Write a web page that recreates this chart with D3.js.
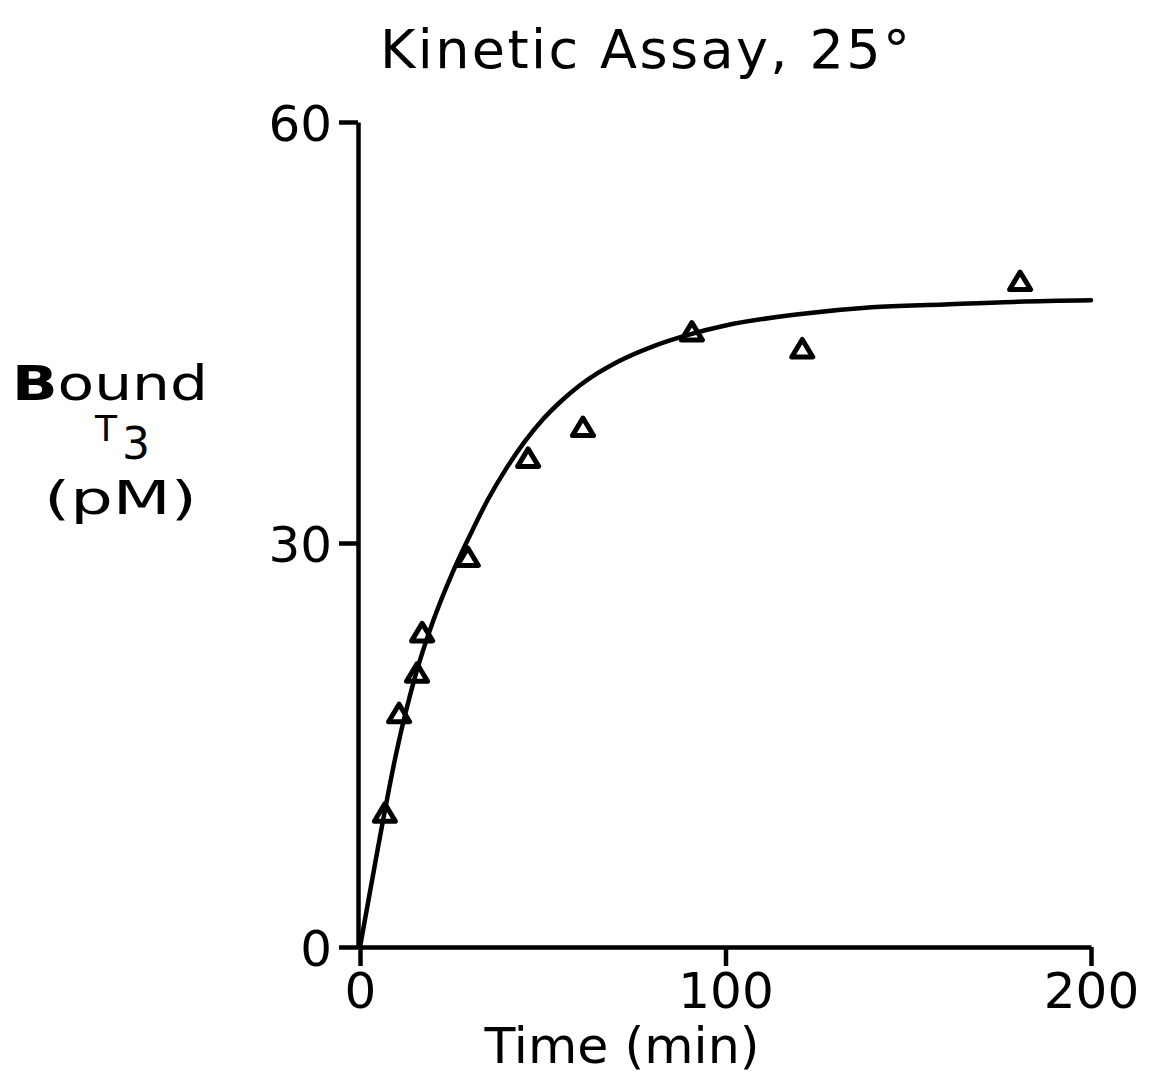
<!DOCTYPE html>
<html>
<head>
<meta charset="utf-8">
<script src="https://cdn.jsdelivr.net/npm/d3@7"></script>
<style>
  html, body { margin: 0; padding: 0; background: #fff; }
  svg { display: block; }
  text { font-family: "DejaVu Sans", sans-serif; fill: #000; }
</style>
</head>
<body>
<svg id="chart" width="1159" height="1080"></svg>
<script>
// ---- data ----
const obsTime  = [6.8, 10.7, 15.6, 17.0, 29.5, 46.0, 61.0, 90.8, 121.0, 180.6];
const obsBound = [10.0, 17.4, 20.4, 23.4, 29.0, 36.1, 38.3, 45.1, 43.9, 48.7];

const fitTime  = [0, 5, 10, 15, 20, 25, 30, 35, 40, 45, 50, 55, 60, 65, 70, 80, 90, 100, 120, 140, 160, 180, 200];
const fitBound = [0, 7.5, 14.5, 20.0, 24.2, 27.6, 30.5, 33.1, 35.3, 37.2, 38.8, 40.1, 41.2, 42.1, 42.85, 44.0, 44.85, 45.5, 46.3, 46.8, 47.0, 47.2, 47.3];

const xTicks = [0, 100, 200];
const yTicks = [0, 30, 60];

const titleText = "Kinetic Assay, 25°";
const xLabel = "Time (min)";

// ---- scales ----
const svg = d3.select("#chart");
const x = d3.scaleLinear().domain([0, 200]).range([360, 1091]);
const y = d3.scaleLinear().domain([0, 30, 60]).range([947, 543, 122]);

// ---- axes ----
const yAxis = d3.axisLeft(y).tickValues(yTicks).tickSize(19).tickSizeOuter(0).tickPadding(7).tickFormat(d3.format("d"));
const xAxis = d3.axisBottom(x).tickValues(xTicks).tickSize(19).tickSizeOuter(0).tickPadding(5).tickFormat(d3.format("d"));

const gy = svg.append("g").attr("transform", "translate(358,0)").call(yAxis);
const gx = svg.append("g").attr("transform", "translate(0,947)").call(xAxis);

[gy, gx].forEach(g => {
  g.select(".domain").attr("stroke", "#000").attr("stroke-width", 4.5);
  g.selectAll(".tick line").attr("stroke", "#000").attr("stroke-width", 4.5);
  g.selectAll(".tick text").attr("font-size", 50).attr("fill", "#000")
    .style("font-family", "DejaVu Sans, sans-serif");
});
gy.selectAll(".tick text").attr("dy", "0.36em");
gx.selectAll(".tick text").attr("dy", "0.74em");

// ---- fitted curve ----
const line = d3.line().x((d, i) => x(fitTime[i])).y((d, i) => y(fitBound[i])).curve(d3.curveMonotoneX);
svg.append("path")
  .datum(fitTime)
  .attr("d", line)
  .attr("fill", "none")
  .attr("stroke", "#000")
  .attr("stroke-width", 4.5)
  .attr("stroke-linecap", "round");

// ---- triangles ----
const tri = "M0,-9.5 L10.5,8 L-10.5,8 Z";
svg.append("g").selectAll("path")
  .data(obsTime)
  .join("path")
  .attr("d", tri)
  .attr("transform", (d, i) => `translate(${x(d)},${y(obsBound[i]) + 1})`)
  .attr("fill", "none")
  .attr("stroke", "#000")
  .attr("stroke-width", 5)
  .attr("stroke-linejoin", "round");

// ---- titles ----
svg.append("text")
  .attr("x", 380).attr("y", 68)
  .attr("font-size", 54)
  .attr("textLength", 530).attr("lengthAdjust", "spacing")
  .text(titleText);

svg.append("text")
  .attr("x", 622).attr("y", 1063)
  .attr("text-anchor", "middle")
  .attr("font-size", 50)
  .attr("textLength", 275).attr("lengthAdjust", "spacingAndGlyphs")
  .text(xLabel);

// y label block
const yl = svg.append("g");
const b = yl.append("text").attr("x", 12).attr("y", 400).attr("font-size", 48)
  .attr("textLength", 196).attr("lengthAdjust", "spacingAndGlyphs");
b.append("tspan").attr("font-weight", "bold").text("B");
b.append("tspan").text("ound");
yl.append("text").attr("x", 95).attr("y", 441).attr("font-size", 36).text("T");
yl.append("text").attr("x", 122).attr("y", 459).attr("font-size", 44).text("3");
yl.append("text").attr("x", 44).attr("y", 514).attr("font-size", 46)
  .attr("textLength", 153).attr("lengthAdjust", "spacingAndGlyphs").text("(pM)");
</script>
</body>
</html>
